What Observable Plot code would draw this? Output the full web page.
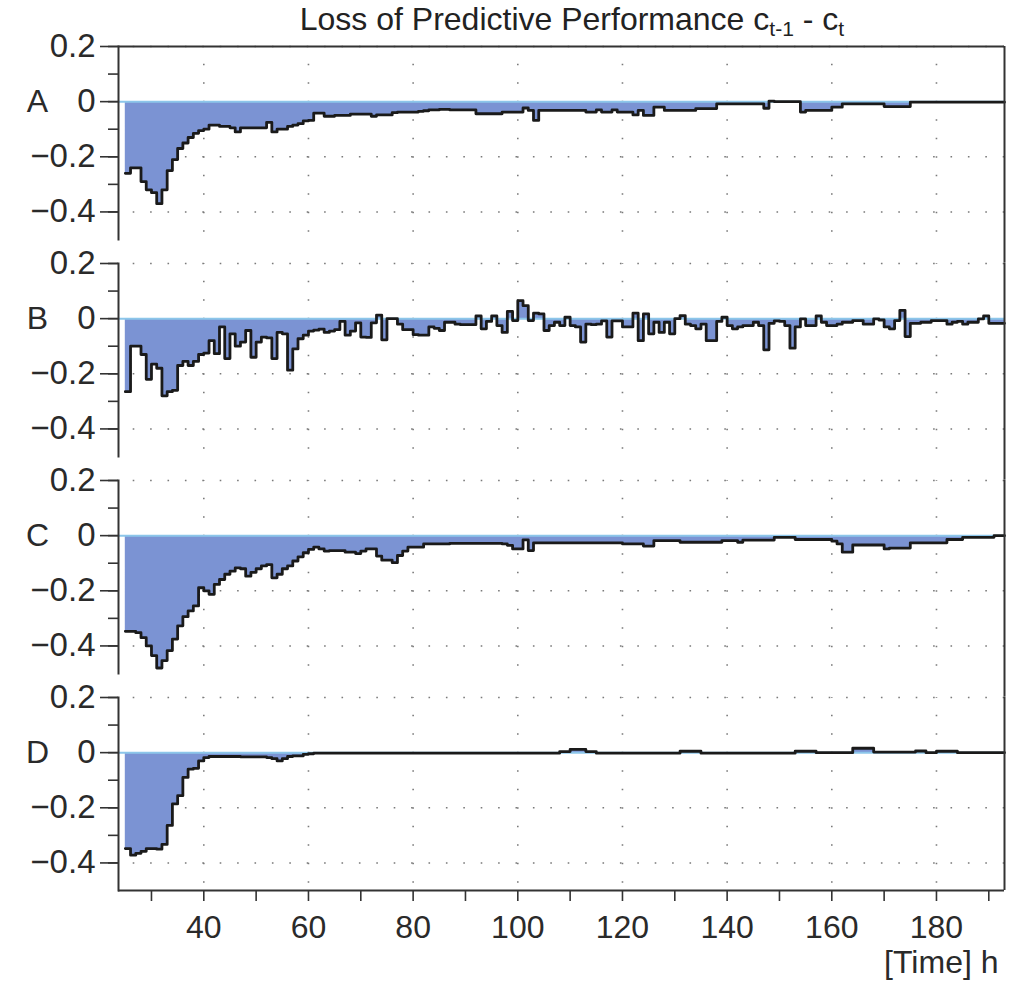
<!DOCTYPE html>
<html><head><meta charset="utf-8">
<script src="https://cdn.jsdelivr.net/npm/d3@7"></script>
<script src="https://cdn.jsdelivr.net/npm/@observablehq/plot@0.6"></script>
<style>
body{margin:0;background:#fff;font-family:"Liberation Sans",Arial,sans-serif;color:#222;}
#title{height:24px;padding-top:7px;width:920px;padding-left:112px;text-align:center;font-size:32px;line-height:24px;white-space:nowrap;}
#title sub{font-size:0.66em;vertical-align:-0.3em;line-height:0;}
</style></head><body>
<div id="title">Loss of Predictive Performance c<sub>t-1</sub> - c<sub>t</sub></div>
<div id="chart"></div>
<script>
const panels = ["A","B","C","D"];
const startHour = 25;
const seriesA = [
-0.26,-0.24,-0.24,-0.29,-0.32,-0.33,-0.37,-0.32,-0.25,-0.21,
-0.17,-0.15,-0.13,-0.115,-0.105,-0.10,-0.085,-0.085,-0.09,-0.09,
-0.095,-0.11,-0.095,-0.095,-0.095,-0.095,-0.095,-0.075,-0.11,-0.10,
-0.10,-0.09,-0.085,-0.08,-0.07,-0.068,-0.042,-0.042,-0.053,-0.053,
-0.05,-0.05,-0.05,-0.045,-0.045,-0.045,-0.045,-0.053,-0.048,-0.048,
-0.048,-0.04,-0.038,-0.038,-0.038,-0.038,-0.035,-0.033,-0.03,-0.03,
-0.028,-0.028,-0.03,-0.03,-0.03,-0.03,-0.03,-0.044,-0.044,-0.044,
-0.044,-0.044,-0.038,-0.038,-0.038,-0.038,-0.023,-0.032,-0.068,-0.032,
-0.032,-0.032,-0.032,-0.032,-0.032,-0.032,-0.032,-0.032,-0.038,-0.038,
-0.03,-0.038,-0.038,-0.03,-0.038,-0.038,-0.038,-0.048,-0.032,-0.05,
-0.05,-0.02,-0.02,-0.032,-0.032,-0.032,-0.032,-0.032,-0.032,-0.025,
-0.025,-0.025,-0.025,-0.008,-0.008,-0.008,-0.008,-0.008,-0.008,-0.008,
-0.008,-0.008,-0.024,0.002,0,0,0,0,0,-0.038,
-0.032,-0.032,-0.032,-0.032,-0.032,-0.02,-0.02,-0.008,-0.008,-0.008,
-0.008,-0.008,-0.008,-0.008,-0.008,-0.018,-0.018,-0.018,-0.018,-0.018,
-0.002,-0.002,-0.002,-0.002,-0.002,-0.002,-0.002,-0.002,-0.002,-0.002,
-0.002,-0.002,-0.002,-0.002,-0.002,-0.002,-0.002,-0.002
];
const seriesB = [
-0.265,-0.10,-0.10,-0.13,-0.22,-0.165,-0.18,-0.28,-0.265,-0.26,
-0.17,-0.155,-0.17,-0.155,-0.13,-0.125,-0.08,-0.127,-0.03,-0.145,
-0.055,-0.10,-0.085,-0.043,-0.14,-0.085,-0.067,-0.07,-0.145,-0.05,
-0.055,-0.187,-0.11,-0.073,-0.06,-0.045,-0.042,-0.038,-0.05,-0.045,
-0.04,-0.01,-0.06,-0.045,-0.015,-0.067,-0.068,-0.015,0.013,-0.077,
0.0,0.0,-0.02,-0.04,-0.04,-0.058,-0.06,-0.06,-0.03,-0.035,
-0.043,-0.013,-0.013,-0.02,-0.022,-0.022,-0.022,0.01,-0.037,-0.01,
0.01,-0.025,-0.05,0.026,-0.007,0.065,0.047,-0.007,0.02,0.017,
-0.043,-0.025,-0.013,-0.025,0.005,-0.025,-0.03,-0.085,-0.02,-0.022,
-0.02,-0.008,-0.067,-0.008,-0.008,-0.03,-0.03,0.02,-0.08,0.017,
-0.055,-0.013,-0.05,-0.013,-0.055,0.0,0.011,-0.02,-0.025,-0.037,
-0.02,-0.08,-0.08,-0.01,0.005,-0.025,-0.037,-0.03,-0.025,-0.025,
-0.013,-0.025,-0.113,-0.017,-0.008,-0.01,-0.025,-0.107,-0.03,-0.001,
-0.025,-0.025,0.01,-0.013,-0.025,-0.025,-0.02,-0.013,-0.013,-0.007,
-0.007,-0.02,-0.02,-0.001,-0.005,-0.03,-0.037,-0.007,0.03,-0.065,
-0.017,-0.017,-0.013,-0.013,-0.007,-0.007,-0.007,-0.02,-0.013,-0.01,
-0.02,-0.013,-0.013,-0.001,0.01,-0.017,-0.017,-0.017
];
const seriesC = [
-0.347,-0.347,-0.352,-0.37,-0.40,-0.435,-0.48,-0.453,-0.417,-0.375,
-0.327,-0.294,-0.273,-0.255,-0.189,-0.20,-0.213,-0.177,-0.159,-0.14,
-0.129,-0.117,-0.12,-0.147,-0.133,-0.12,-0.11,-0.105,-0.153,-0.14,
-0.12,-0.11,-0.092,-0.077,-0.062,-0.05,-0.042,-0.048,-0.056,-0.054,
-0.054,-0.054,-0.06,-0.06,-0.065,-0.056,-0.048,-0.048,-0.074,-0.089,
-0.089,-0.098,-0.072,-0.056,-0.042,-0.042,-0.042,-0.03,-0.03,-0.03,
-0.03,-0.03,-0.028,-0.028,-0.028,-0.028,-0.028,-0.028,-0.028,-0.028,
-0.028,-0.028,-0.03,-0.035,-0.048,-0.048,-0.015,-0.054,-0.026,-0.026,
-0.026,-0.026,-0.026,-0.026,-0.026,-0.026,-0.026,-0.026,-0.026,-0.026,
-0.026,-0.026,-0.026,-0.026,-0.026,-0.03,-0.03,-0.03,-0.03,-0.038,
-0.038,-0.018,-0.018,-0.018,-0.018,-0.018,-0.024,-0.024,-0.024,-0.024,
-0.024,-0.024,-0.024,-0.024,-0.018,-0.018,-0.018,-0.024,-0.016,-0.016,
-0.016,-0.016,-0.016,-0.016,-0.006,-0.006,-0.006,-0.006,-0.014,-0.014,
-0.014,-0.014,-0.014,-0.014,-0.014,-0.02,-0.03,-0.06,-0.06,-0.034,
-0.034,-0.034,-0.034,-0.034,-0.034,-0.048,-0.045,-0.045,-0.045,-0.045,
-0.026,-0.026,-0.026,-0.026,-0.026,-0.026,-0.026,-0.014,-0.014,-0.014,
-0.006,-0.006,-0.006,-0.006,-0.006,-0.006,0.0,0.0
];
const seriesD = [
-0.348,-0.372,-0.365,-0.358,-0.348,-0.348,-0.35,-0.333,-0.264,-0.186,
-0.156,-0.09,-0.06,-0.057,-0.03,-0.018,-0.014,-0.014,-0.014,-0.014,
-0.014,-0.014,-0.015,-0.015,-0.015,-0.015,-0.015,-0.018,-0.022,-0.03,
-0.022,-0.014,-0.012,-0.012,-0.006,-0.004,-0.002,-0.002,-0.002,-0.002,
-0.002,-0.002,-0.002,-0.002,-0.002,-0.002,-0.002,-0.002,-0.002,-0.002,
-0.002,-0.002,-0.002,-0.002,-0.002,-0.002,-0.002,-0.002,-0.002,-0.002,
-0.002,-0.002,-0.002,-0.002,-0.002,-0.002,-0.002,-0.002,-0.002,-0.002,
-0.002,-0.002,-0.002,-0.002,-0.002,-0.002,-0.002,-0.002,-0.002,-0.002,
-0.002,-0.002,-0.002,0.004,0.004,0.012,0.012,0.012,0.004,0.004,
-0.002,-0.002,-0.002,-0.002,-0.002,-0.002,-0.002,-0.002,-0.002,-0.002,
-0.002,-0.002,-0.002,-0.002,-0.002,-0.002,0.005,0.005,0.005,0.005,
-0.002,-0.002,-0.002,-0.002,-0.002,-0.002,-0.002,-0.002,-0.002,-0.002,
-0.002,-0.002,-0.002,-0.002,-0.002,-0.002,-0.002,-0.002,0.005,0.005,
0.005,0.005,0,0,0,0,0,0,0,0.016,
0.016,0.016,0.016,0.002,0.002,0.002,0.002,0.002,0.002,0.002,
0.002,0.006,0.006,0,0,0.005,0.005,0.005,0.005,0,
0,0,0,0,0,0,0,0
];
const xDomain = [23.7, 193];
const yDomain = [-0.5, 0.2];
const xTicks = [30,40,50,60,70,80,90,100,110,120,130,140,150,160,170,180,190];
const xLabels = [40,60,80,100,120,140,160,180];
const yMinorTicks = [-0.4,-0.3,-0.2,-0.1,0,0.1,0.2];
const yLabels = [-0.4,-0.2,0,0.2];
const gridXValues = [40,60,80,100,120,140,160,180];
const gridYValues = [0.2,-0.2,-0.4];
const xLabelText = "[Time] h";

const seriesBy = {A: seriesA, B: seriesB, C: seriesC, D: seriesD};
const rows = panels.flatMap(p => {
  const vals = seriesBy[p];
  const r = vals.map((v, i) => ({panel: p, t: startHour + i, v}));
  r.push({panel: p, t: startHour + vals.length, v: vals[vals.length - 1]});
  return r;
});

const W = 1032, H = 951, mT = 14, mB = 90, mL = 118, mR = 28;
const padInner = 0.109;
const step = (H - mT - mB) / (panels.length - padInner);
const gapPx = step * padInner;

const fmtY = d => d === 0 ? "0" : d3.format(".1f")(d).replace("-", "\u2212");
const dotColor = "#7a7a7a";
const ink = "#2a2a2a";

const chart = Plot.plot({
  width: W, height: H,
  marginTop: mT, marginBottom: mB, marginLeft: mL, marginRight: mR,
  style: {fontFamily: "'Liberation Sans', Arial, sans-serif", fontSize: "32px", color: ink, background: "#fff", overflow: "visible"},
  x: {domain: xDomain, axis: null},
  y: {domain: yDomain, axis: null},
  fy: {domain: panels, paddingInner: padInner, paddingOuter: 0, axis: null, label: null},
  marks: [
    Plot.gridX({ticks: gridXValues, stroke: dotColor, strokeOpacity: 1, strokeWidth: 1.6, strokeDasharray: "1.6,16.9", strokeDashoffset: 0.8}),
    Plot.gridY({ticks: gridYValues, stroke: dotColor, strokeOpacity: 1, strokeWidth: 1.6, strokeDasharray: "1.6,15.8", strokeDashoffset: 2.7}),
    Plot.areaY(rows, {x: "t", y: "v", fy: "panel", curve: "step-after", fill: "#7b93d3"}),
    Plot.ruleY([0], {stroke: "#8cc6ea", strokeWidth: 2}),
    Plot.lineY(rows, {x: "t", y: "v", fy: "panel", curve: "step-after", stroke: "#1a1a1a", strokeWidth: 2.8}),
    Plot.frame({anchor: "left", stroke: "#333", strokeWidth: 2}),
    Plot.ruleY([{panel: panels[0], v: yDomain[1]}], {y: "v", fy: "panel", stroke: "#333", strokeWidth: 2}),
    Plot.ruleY([{panel: panels[panels.length - 1], v: yDomain[0]}], {y: "v", fy: "panel", stroke: "#333", strokeWidth: 2}),
    Plot.ruleX(panels.slice(0, -1).map(p => ({panel: p, x: xDomain[1]})), {x: "x", fy: "panel", stroke: "#333", strokeWidth: 2, insetBottom: -gapPx}),
    Plot.ruleX([{panel: panels[panels.length - 1], x: xDomain[1]}], {x: "x", fy: "panel", stroke: "#333", strokeWidth: 2}),
    Plot.axisY({ticks: yMinorTicks, tickSize: 10, tickFormat: () => "", stroke: "#333", strokeWidth: 1.6, label: null}),
    Plot.axisY({ticks: yLabels, tickSize: 18, tickPadding: 5, tickFormat: fmtY, stroke: "#333", strokeWidth: 1.6, fontSize: 33, label: null}),
    Plot.axisX({ticks: xTicks, tickSize: 11, tickPadding: 14, tickFormat: d => xLabels.includes(d) ? String(d) : "", stroke: "#333", strokeWidth: 1.6, fontSize: 32, label: null}),
    Plot.text(panels.map(p => ({panel: p})), {fy: "panel", y: () => 0, text: "panel", frameAnchor: "left", dx: -81, textAnchor: "middle", fontSize: 32}),
    Plot.text([{panel: panels[panels.length - 1], s: xLabelText}], {fy: "panel", text: "s", frameAnchor: "bottom-right", textAnchor: "end", lineAnchor: "bottom", dx: -6, dy: 82, fontSize: 32})
  ]
});
document.getElementById("chart").appendChild(chart);
</script>
</body></html>
